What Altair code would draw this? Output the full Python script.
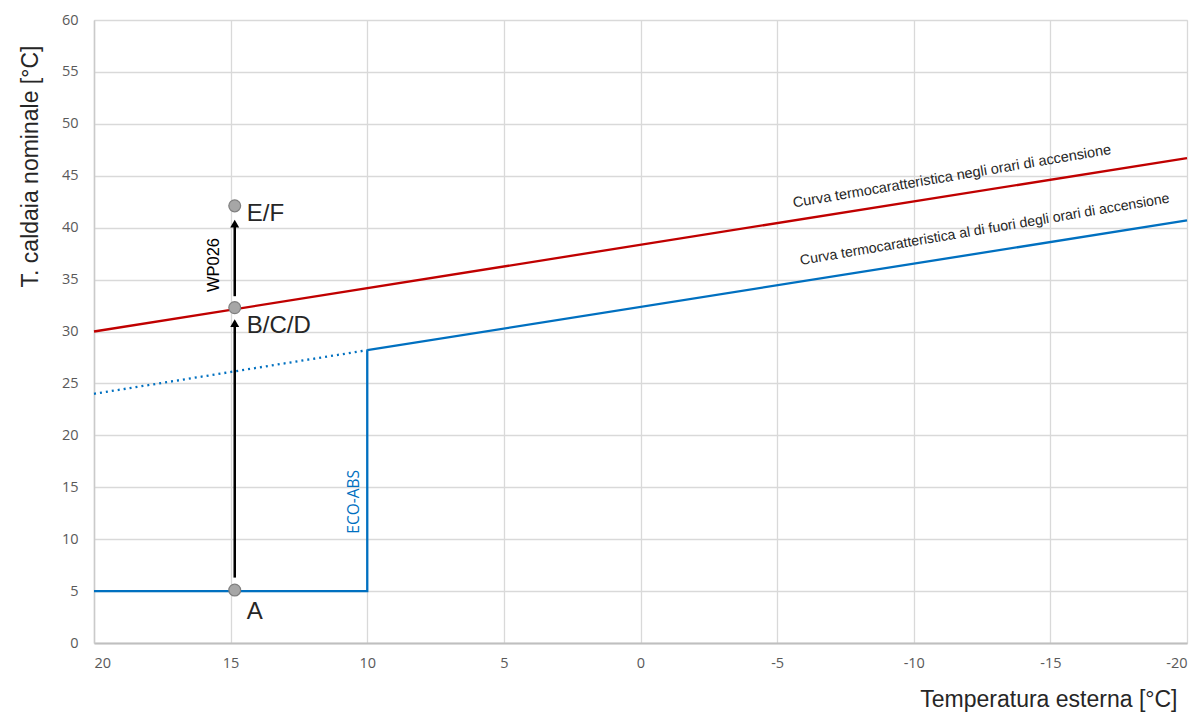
import altair as alt
import pandas as pd

# --- data ---
red_x = [20, -20]
red_y = [30.0, 46.7]
blue_x = [10, -20]
blue_y = [28.2, 40.7]
dot_x = [20, 10]
dot_y = [24.0, 28.2]
eco_x = [20, 10, 10]
eco_y = [5.0, 5.0, 28.2]

pt_x = 14.85
pt_y = [5.1, 32.3, 42.1]
pt_labels = ["A", "B/C/D", "E/F"]
lab_dy = [22, 18, 8]

arrow_start = [6.3, 33.4]
arrow_head = [30.8, 40.4]

x_ticks = [20, 15, 10, 5, 0, -5, -10, -15, -20]
y_ticks = [0, 5, 10, 15, 20, 25, 30, 35, 40, 45, 50, 55, 60]

curve_labels = ["Curva termocaratteristica negli orari di accensione",
                "Curva termocaratteristica al di fuori degli orari di accensione"]
curve_lab_x = [-11.4, -12.6]
curve_lab_y = [44.9, 39.8]
curve_lab_size = [14.5, 14.1]
curve_lab_color = ["#262626", "#262626"]

RED = "#C00000"
BLUE = "#0070C0"

xs = alt.Scale(domain=[-20, 20], reverse=True, nice=False)
ys = alt.Scale(domain=[0, 60], nice=False)

X = lambda f: alt.X(f, type="quantitative", scale=xs,
                    axis=alt.Axis(values=x_ticks, labelExpr="'' + datum.value",
                                  title="Temperatura esterna [°C]",
                                  grid=True, gridColor="#D9D9D9", gridWidth=1.3,
                                  domainColor="#BFBFBF", domainWidth=2, ticks=False,
                                  labelColor="#595959", labelFontSize=14.5, labelFont="Open Sans",
                                  labelPadding=13,
                                  titleFont="Liberation Sans", titleFontSize=23, titleFontWeight="normal",
                                  titleColor="#262626", titleAnchor="end", titleAlign="right",
                                  titleX=1083, titleY=68, titleBaseline="bottom"))
Y = lambda f: alt.Y(f, type="quantitative", scale=ys,
                    axis=alt.Axis(values=y_ticks, title="T. caldaia nominale [°C]",
                                  grid=True, gridColor="#D9D9D9", gridWidth=1.3,
                                  domain=True, domainColor="#CACACA", domainWidth=1.5, ticks=False,
                                  labelColor="#595959", labelFontSize=14.5, labelFont="Open Sans",
                                  labelPadding=16,
                                  titleFont="Liberation Sans", titleFontSize=23, titleFontWeight="normal",
                                  titleColor="#262626", titleAngle=-90, titleAlign="center",
                                  titleBaseline="middle", titleX=-64, titleY=146))

lines_df = pd.DataFrame(
    [{"x": a, "y": b, "s": "red", "o": i} for i, (a, b) in enumerate(zip(red_x, red_y))]
    + [{"x": a, "y": b, "s": "blue", "o": i} for i, (a, b) in enumerate(zip(blue_x, blue_y))]
    + [{"x": a, "y": b, "s": "eco", "o": i} for i, (a, b) in enumerate(zip(eco_x, eco_y))]
)
dot_df = pd.DataFrame({"x": dot_x, "y": dot_y})

color_scale = alt.Scale(domain=["red", "blue", "eco"], range=[RED, BLUE, BLUE])

base_lines = alt.Chart(lines_df).mark_line(strokeWidth=2.3).encode(
    x=X("x"), y=Y("y"),
    color=alt.Color("s:N", scale=color_scale, legend=None),
    detail="s:N", order="o:Q")

dotted = alt.Chart(dot_df).mark_line(strokeWidth=2.3, strokeDash=[2, 4], color=BLUE).encode(
    x=alt.X("x:Q", scale=xs), y=alt.Y("y:Q", scale=ys))

arrow_df = pd.DataFrame(
    [{"x": pt_x, "y": arrow_start[i], "a": i, "o": 0} for i in range(2)]
    + [{"x": pt_x, "y": arrow_head[i], "a": i, "o": 1} for i in range(2)]
)
arrows = alt.Chart(arrow_df).mark_line(strokeWidth=2.5, color="black").encode(
    x=alt.X("x:Q", scale=xs), y=alt.Y("y:Q", scale=ys), detail="a:N", order="o:Q")

head_df = pd.DataFrame({"x": [pt_x, pt_x], "y": arrow_head})
heads = alt.Chart(head_df).mark_point(shape="triangle-up", filled=True, size=80,
                                      color="black", opacity=1).encode(
    x=alt.X("x:Q", scale=xs), y=alt.Y("y:Q", scale=ys))

pts_df = pd.DataFrame({"x": [pt_x] * 3, "y": pt_y, "lab": pt_labels, "dy": lab_dy})
pts = alt.Chart(pts_df).mark_point(filled=True, size=140, fill="#A6A6A6",
                                   stroke="#7F7F7F", strokeWidth=1.2, opacity=1).encode(
    x=alt.X("x:Q", scale=xs), y=alt.Y("y:Q", scale=ys))

pt_texts = []
for i in range(3):
    d = pd.DataFrame({"x": [pt_x], "y": [pt_y[i]], "lab": [pt_labels[i]]})
    pt_texts.append(alt.Chart(d).mark_text(align="left", baseline="middle", dx=12, dy=lab_dy[i],
                                           font="Liberation Sans", fontSize=24,
                                           color="#262626").encode(
        x=alt.X("x:Q", scale=xs), y=alt.Y("y:Q", scale=ys), text="lab:N"))

wp_df = pd.DataFrame({"x": [15.61], "y": [36.4], "t": ["WP026"]})
wp = alt.Chart(wp_df).mark_text(angle=270, font="Liberation Sans", fontSize=16.5,
                                color="black", baseline="middle").encode(
    x=alt.X("x:Q", scale=xs), y=alt.Y("y:Q", scale=ys), text="t:N")

eco_df = pd.DataFrame({"x": [10.49], "y": [13.6], "t": ["ECO-ABS"]})
eco = alt.Chart(eco_df).mark_text(angle=270, font="Open Sans", fontSize=15.5,
                                  color=BLUE, baseline="middle").encode(
    x=alt.X("x:Q", scale=xs), y=alt.Y("y:Q", scale=ys), text="t:N")

curve_texts = []
for i in range(2):
    d = pd.DataFrame({"x": [curve_lab_x[i]], "y": [curve_lab_y[i]], "t": [curve_labels[i]]})
    curve_texts.append(alt.Chart(d).mark_text(angle=350.4, font="Liberation Sans",
                                              fontSize=curve_lab_size[i],
                                              color=curve_lab_color[i], baseline="middle").encode(
        x=alt.X("x:Q", scale=xs), y=alt.Y("y:Q", scale=ys), text="t:N"))

chart = alt.layer(base_lines, dotted, arrows, heads, pts, *pt_texts, wp, eco, *curve_texts).properties(
    width=1093, height=623,
    autosize=alt.AutoSizeParams(type="none"),
    padding={"left": 86, "top": 12, "right": 4, "bottom": 70},
).configure_view(stroke=None).configure(background="white")

chart.save("out.html", embed_options={"renderer": "svg", "actions": False})
